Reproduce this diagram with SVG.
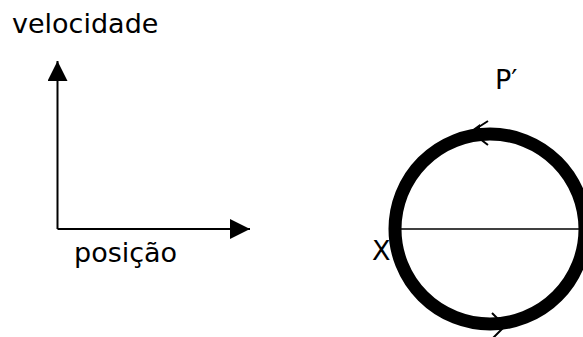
<svg xmlns="http://www.w3.org/2000/svg" width="583" height="337" viewBox="0 0 583 337">
<style>
text{font-family:"DejaVu Sans",Verdana,sans-serif;font-size:27px;fill:#000}
.ax{stroke:#000;stroke-width:2;fill:none}
.ring{stroke:#000;stroke-width:13;fill:none}
.arm{stroke:#000;stroke-width:2;fill:none}
</style>
<defs>
<marker id="tri" viewBox="0 0 20 20" refX="20" refY="10" markerWidth="20" markerHeight="20" markerUnits="userSpaceOnUse" orient="auto">
<path d="M0,0 L20,10 L0,20 Z" fill="#000"/>
</marker>
</defs>
<g id="label-velocidade"><text x="12" y="33">velocidade</text></g>
<g id="label-posicao"><text x="74" y="262">posição</text></g>
<g id="label-P"><text x="495" y="89">P′</text></g>
<g id="label-X"><text x="372" y="260">X</text></g>
<g id="circle">
<circle class="ring" cx="490" cy="229" r="95"/>
</g>
<g id="connectors">
<line class="ax" x1="57.5" y1="229" x2="57.5" y2="61" marker-end="url(#tri)"/>
<line class="ax" x1="57.5" y1="229" x2="250" y2="229" marker-end="url(#tri)"/>
<line x1="400" y1="229" x2="583" y2="229" stroke="#000" stroke-width="1.5"/>
<polyline class="arm" points="488,121 471,132 488,145"/>
<path d="M469,132 L480,124 L480,141 Z" fill="#000"/>
<polyline class="arm" points="492,313 505,326 492,339"/>
</g>
</svg>
